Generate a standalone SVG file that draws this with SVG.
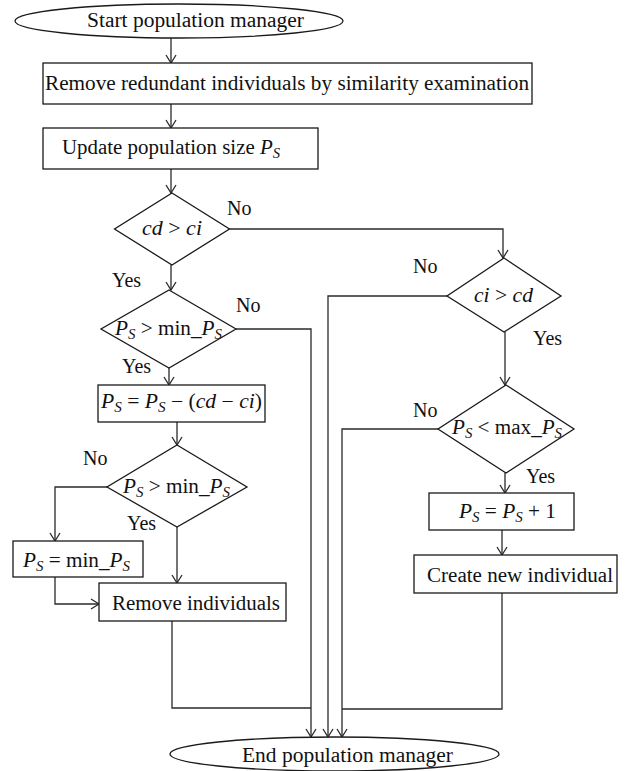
<svg xmlns="http://www.w3.org/2000/svg" width="627" height="771" viewBox="0 0 627 771">
<style>
  .shape { fill: #fff; stroke: #1a1a1a; stroke-width: 1.3; }
  .conn { fill: none; stroke: #2a2a2a; stroke-width: 1.3; }
  text { font-family: "Liberation Serif", "Times New Roman", serif; font-size: 20px; fill: #111; }
  .it { font-style: italic; }
  .sub { font-size: 14px; font-style: italic; }
</style>
<defs>
  <marker id="arr" markerUnits="userSpaceOnUse" markerWidth="12" markerHeight="12" viewBox="0 0 10 12" refX="9" refY="6" orient="auto">
    <path d="M1,1 L9,6 L1,11" fill="none" stroke="#2a2a2a" stroke-width="1.3"/>
  </marker>
</defs>

<g id="connectors">
  <path class="conn" d="M171,38 V63" marker-end="url(#arr)"/>
  <path class="conn" d="M171,104 V128" marker-end="url(#arr)"/>
  <path class="conn" d="M171,169 V193" marker-end="url(#arr)"/>
  <path class="conn" d="M229.5,229 H503 V258" marker-end="url(#arr)"/>
  <path class="conn" d="M171,265 V290" marker-end="url(#arr)"/>
  <path class="conn" d="M236,329 H311 V737" marker-end="url(#arr)"/>
  <path class="conn" d="M169,368 V385" marker-end="url(#arr)"/>
  <path class="conn" d="M177,422 V445" marker-end="url(#arr)"/>
  <path class="conn" d="M107,487 H55 V541" marker-end="url(#arr)"/>
  <path class="conn" d="M177,527 V583" marker-end="url(#arr)"/>
  <path class="conn" d="M55,577 V604 H99" marker-end="url(#arr)"/>
  <path class="conn" d="M172,621 V708 H311"/>
  <path class="conn" d="M447,296 H328 V737" marker-end="url(#arr)"/>
  <path class="conn" d="M505,332 V385" marker-end="url(#arr)"/>
  <path class="conn" d="M438,429 H342 V737" marker-end="url(#arr)"/>
  <path class="conn" d="M505,473 V493" marker-end="url(#arr)"/>
  <path class="conn" d="M502,530 V555" marker-end="url(#arr)"/>
  <path class="conn" d="M502,593 V709 H342"/>
  <text x="227" y="215">No</text>
  <text x="112" y="287">Yes</text>
  <text x="236" y="312">No</text>
  <text x="122" y="373">Yes</text>
  <text x="83" y="465">No</text>
  <text x="127" y="530">Yes</text>
  <text x="413" y="273">No</text>
  <text x="533" y="345">Yes</text>
  <text x="413" y="417">No</text>
  <text x="526" y="483">Yes</text>
</g>

<g id="start">
  <ellipse class="shape" cx="179" cy="21" rx="164" ry="17"/>
  <text x="87" y="27" textLength="217" lengthAdjust="spacingAndGlyphs">Start population manager</text>
</g>

<g id="remove-redundant">
  <rect class="shape" x="43" y="63" width="489" height="41"/>
  <text x="45" y="90" textLength="484" lengthAdjust="spacingAndGlyphs">Remove redundant individuals by similarity examination</text>
</g>

<g id="update-size">
  <rect class="shape" x="43" y="128" width="275" height="41"/>
  <text x="62" y="154" textLength="218" lengthAdjust="spacingAndGlyphs">Update population size <tspan class="it">P</tspan><tspan class="sub" dy="4">S</tspan></text>
</g>

<g id="cd-gt-ci">
  <polygon class="shape" points="172,193 229.5,229 172,265 114.5,229"/>
  <text x="142" y="235" textLength="60" lengthAdjust="spacingAndGlyphs"><tspan class="it">cd</tspan> &gt; <tspan class="it">ci</tspan></text>
</g>

<g id="ps-gt-min-1">
  <polygon class="shape" points="169,290 236,329 169,368 101,329"/>
  <text x="115" y="335" textLength="107" lengthAdjust="spacingAndGlyphs"><tspan class="it">P</tspan><tspan class="sub" dy="4">S</tspan><tspan dy="-4"> &gt; min_</tspan><tspan class="it">P</tspan><tspan class="sub" dy="4">S</tspan></text>
</g>

<g id="ps-minus">
  <rect class="shape" x="98" y="385" width="167" height="37"/>
  <text x="101" y="408" textLength="161" lengthAdjust="spacingAndGlyphs"><tspan class="it">P</tspan><tspan class="sub" dy="4">S</tspan><tspan dy="-4"> = </tspan><tspan class="it">P</tspan><tspan class="sub" dy="4">S</tspan><tspan dy="-4"> − (</tspan><tspan class="it">cd</tspan> − <tspan class="it">ci</tspan>)</text>
</g>

<g id="ps-gt-min-2">
  <polygon class="shape" points="177,445 247,487 177,527 107,487"/>
  <text x="123" y="493" textLength="107" lengthAdjust="spacingAndGlyphs"><tspan class="it">P</tspan><tspan class="sub" dy="4">S</tspan><tspan dy="-4"> &gt; min_</tspan><tspan class="it">P</tspan><tspan class="sub" dy="4">S</tspan></text>
</g>

<g id="ps-eq-min">
  <rect class="shape" x="13" y="541" width="130" height="36"/>
  <text x="23" y="567" textLength="107" lengthAdjust="spacingAndGlyphs"><tspan class="it">P</tspan><tspan class="sub" dy="4">S</tspan><tspan dy="-4"> = min_</tspan><tspan class="it">P</tspan><tspan class="sub" dy="4">S</tspan></text>
</g>

<g id="remove-individuals">
  <rect class="shape" x="99" y="583" width="187" height="38"/>
  <text x="112" y="610" textLength="168" lengthAdjust="spacingAndGlyphs">Remove individuals</text>
</g>

<g id="ci-gt-cd">
  <polygon class="shape" points="504,258 561,296 504,332 447,296"/>
  <text x="474" y="302" textLength="59" lengthAdjust="spacingAndGlyphs"><tspan class="it">ci</tspan> &gt; <tspan class="it">cd</tspan></text>
</g>

<g id="ps-lt-max">
  <polygon class="shape" points="506,385 574,429 506,473 438,429"/>
  <text x="452" y="434" textLength="110" lengthAdjust="spacingAndGlyphs"><tspan class="it">P</tspan><tspan class="sub" dy="4">S</tspan><tspan dy="-4"> &lt; max_</tspan><tspan class="it">P</tspan><tspan class="sub" dy="4">S</tspan></text>
</g>

<g id="ps-plus-one">
  <rect class="shape" x="429" y="493" width="145" height="37"/>
  <text x="459" y="518" textLength="97" lengthAdjust="spacingAndGlyphs"><tspan class="it">P</tspan><tspan class="sub" dy="4">S</tspan><tspan dy="-4"> = </tspan><tspan class="it">P</tspan><tspan class="sub" dy="4">S</tspan><tspan dy="-4"> + 1</tspan></text>
</g>

<g id="create-new">
  <rect class="shape" x="414" y="555" width="203" height="38"/>
  <text x="427" y="582" textLength="186" lengthAdjust="spacingAndGlyphs">Create new individual</text>
</g>

<g id="end">
  <ellipse class="shape" cx="334.5" cy="754" rx="164.5" ry="17"/>
  <text x="242" y="762" textLength="211" lengthAdjust="spacingAndGlyphs">End population manager</text>
</g>
</svg>
